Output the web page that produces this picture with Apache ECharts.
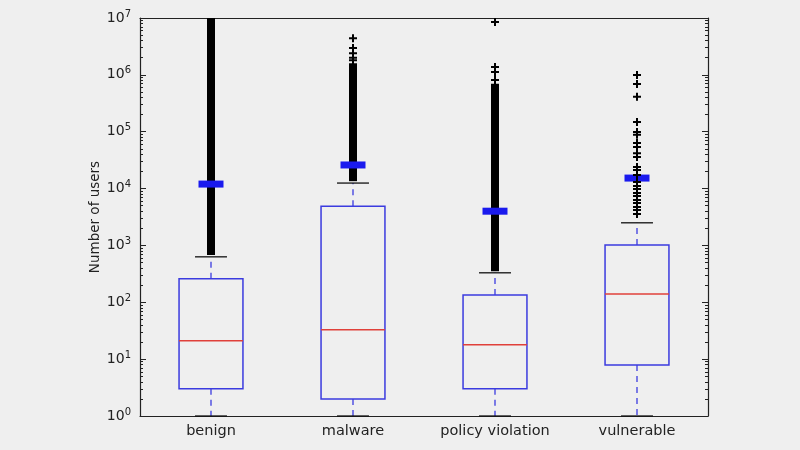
<!DOCTYPE html>
<html>
<head>
<meta charset="utf-8">
<script src="https://cdn.jsdelivr.net/npm/echarts@6/dist/echarts.min.js"></script>
<style>
html, body { margin: 0; padding: 0; background: #efefef; }
#chart { width: 800px; height: 450px; }
</style>
</head>
<body>
<div id="chart"></div>
<script>
// box statistics (log scale)
var categories = ['benign', 'malware', 'policy violation', 'vulnerable'];
var whiskerLow = [1, 1, 1, 1];
var q1 = [3.0, 2.0, 3.0, 7.9];
var median = [21, 33, 18, 140];
var q3 = [260, 4900, 134, 1016];
var whiskerHigh = [630, 12500, 330, 2500];
var means = [12000, 26000, 4000, 15300];

// where the fliers are so dense they merge into a solid bar
var denseLow = [680, 13500, 350, null];
var denseHigh = [1e7, 1.6e6, 7e5, null];

// fliers that can be told apart
var sparseOutliers = [
    ['malware', 1.8e6], ['malware', 2.0e6], ['malware', 2.4e6], ['malware', 2.96e6], ['malware', 4.4e6],
    ['policy violation', 8.1e5], ['policy violation', 1.12e6], ['policy violation', 1.38e6], ['policy violation', 8.5e6],
    ['vulnerable', 9.9e5], ['vulnerable', 6.9e5], ['vulnerable', 4.1e5], ['vulnerable', 1.48e5],
    ['vulnerable', 9.9e4], ['vulnerable', 8.8e4], ['vulnerable', 6.3e4], ['vulnerable', 5.4e4],
    ['vulnerable', 4.2e4], ['vulnerable', 3.6e4], ['vulnerable', 2.4e4], ['vulnerable', 2.13e4],
    ['vulnerable', 1.73e4], ['vulnerable', 13030], ['vulnerable', 11100], ['vulnerable', 9820],
    ['vulnerable', 8350], ['vulnerable', 7400], ['vulnerable', 6290], ['vulnerable', 5570],
    ['vulnerable', 4740], ['vulnerable', 4200], ['vulnerable', 3570]
];

var blue = '#3b3bdf';
var plus = 'path://M3,0H5V3H8V5H5V8H3V5H0V3H3Z';

var boxData = categories.map(function (c, i) {
    return [i, whiskerLow[i], q1[i], median[i], q3[i], whiskerHigh[i]];
});
var bandData = [];
categories.forEach(function (c, i) {
    if (denseLow[i] != null) bandData.push([i, denseLow[i], denseHigh[i]]);
});
var meanData = categories.map(function (c, i) { return [i, means[i]]; });

var chart = echarts.init(document.getElementById('chart'));

var option = {
    backgroundColor: '#efefef',
    animation: false,
    textStyle: { fontFamily: 'DejaVu Sans' },
    grid: { left: 140, top: 18, width: 568, height: 398 },
    xAxis: [{
        type: 'category',
        data: categories,
        axisLine: { lineStyle: { color: '#222', width: 1.2 } },
        axisTick: { alignWithLabel: true, inside: true, length: 5, lineStyle: { color: '#222' } },
        axisLabel: { color: '#222', fontSize: 14.5, margin: 8, interval: 0 },
        splitLine: { show: false }
    }, {
        type: 'category',
        position: 'top',
        data: categories,
        axisLine: { lineStyle: { color: '#222', width: 1.2 } },
        axisTick: { alignWithLabel: true, inside: true, length: 5, interval: 0, lineStyle: { color: '#222' } },
        axisLabel: { show: false }
    }],
    yAxis: [{
        type: 'log',
        logBase: 10,
        min: 1,
        max: 1e7,
        interval: 1,
        name: 'Number of users',
        nameLocation: 'middle',
        nameGap: 38,
        nameMoveOverlap: false,
        nameTextStyle: { color: '#222', fontSize: 13.5 },
        axisLine: { show: true, lineStyle: { color: '#222', width: 1.2 } },
        axisTick: { show: true, inside: true, length: 6, lineStyle: { color: '#222' } },
        minorTick: { show: true, splitNumber: 9, length: 3, lineStyle: { color: '#222' } },
        splitLine: { show: false },
        axisLabel: {
            color: '#222',
            margin: 9,
            formatter: function (v) {
                return '{b|10}{s|' + Math.round(Math.log10(v)) + '}';
            },
            rich: {
                b: { fontSize: 14, color: '#222' },
                s: { fontSize: 10, color: '#222', verticalAlign: 'bottom', padding: [0, 0, 8, 0] }
            }
        }
    }, {
        type: 'log',
        logBase: 10,
        min: 1,
        max: 1e7,
        interval: 1,
        position: 'right',
        axisLine: { show: true, lineStyle: { color: '#222', width: 1.2 } },
        axisTick: { show: true, inside: true, length: 6, lineStyle: { color: '#222' } },
        minorTick: { show: true, splitNumber: 9, length: 3, lineStyle: { color: '#222' } },
        splitLine: { show: false },
        axisLabel: { show: false }
    }],
    series: [{
        type: 'custom',
        name: 'box',
        data: boxData,
        encode: { x: 0, y: [1, 2, 3, 4, 5] },
        renderItem: function (params, api) {
            var i = api.value(0);
            var bw = api.size([1, 0])[0] * 0.45;
            var cw = bw / 2;
            var lo = api.coord([i, api.value(1)]);
            var b1 = api.coord([i, api.value(2)]);
            var md = api.coord([i, api.value(3)]);
            var b3 = api.coord([i, api.value(4)]);
            var hi = api.coord([i, api.value(5)]);
            var x = b1[0];
            return {
                type: 'group',
                children: [
                    { type: 'line', shape: { x1: x, y1: b1[1], x2: x, y2: lo[1] },
                      style: { stroke: blue, lineWidth: 1.3, lineDash: [6, 5] } },
                    { type: 'line', shape: { x1: x, y1: b3[1], x2: x, y2: hi[1] },
                      style: { stroke: blue, lineWidth: 1.3, lineDash: [6, 5] } },
                    { type: 'rect', shape: { x: x - bw / 2, y: b3[1], width: bw, height: b1[1] - b3[1] },
                      style: { fill: 'none', stroke: blue, lineWidth: 1.5 } },
                    { type: 'line', shape: { x1: x - bw / 2, y1: md[1], x2: x + bw / 2, y2: md[1] },
                      style: { stroke: '#e0403a', lineWidth: 1.5 } },
                    { type: 'line', shape: { x1: x - cw / 2, y1: hi[1], x2: x + cw / 2, y2: hi[1] },
                      style: { stroke: '#111', lineWidth: 1.3 } },
                    { type: 'line', shape: { x1: x - cw / 2, y1: lo[1], x2: x + cw / 2, y2: lo[1] },
                      style: { stroke: '#111', lineWidth: 1.3 } }
                ]
            };
        }
    }, {
        type: 'custom',
        name: 'dense fliers',
        data: bandData,
        encode: { x: 0, y: [1, 2] },
        renderItem: function (params, api) {
            var i = api.value(0);
            var a = api.coord([i, api.value(1)]);
            var b = api.coord([i, api.value(2)]);
            return {
                type: 'rect',
                shape: { x: a[0] - 4, y: b[1], width: 8, height: a[1] - b[1] },
                style: { fill: '#000' }
            };
        }
    }, {
        type: 'scatter',
        name: 'fliers',
        data: sparseOutliers,
        symbol: plus,
        symbolSize: 8,
        itemStyle: { color: '#000', opacity: 1 }
    }, {
        type: 'custom',
        name: 'mean',
        data: meanData,
        encode: { x: 0, y: 1 },
        renderItem: function (params, api) {
            var p = api.coord([api.value(0), api.value(1)]);
            return {
                type: 'rect',
                shape: { x: p[0] - 12.5, y: p[1] - 3.5, width: 25, height: 7 },
                style: { fill: '#1a1aee' }
            };
        }
    }]
};

chart.setOption(option);
</script>
</body>
</html>
